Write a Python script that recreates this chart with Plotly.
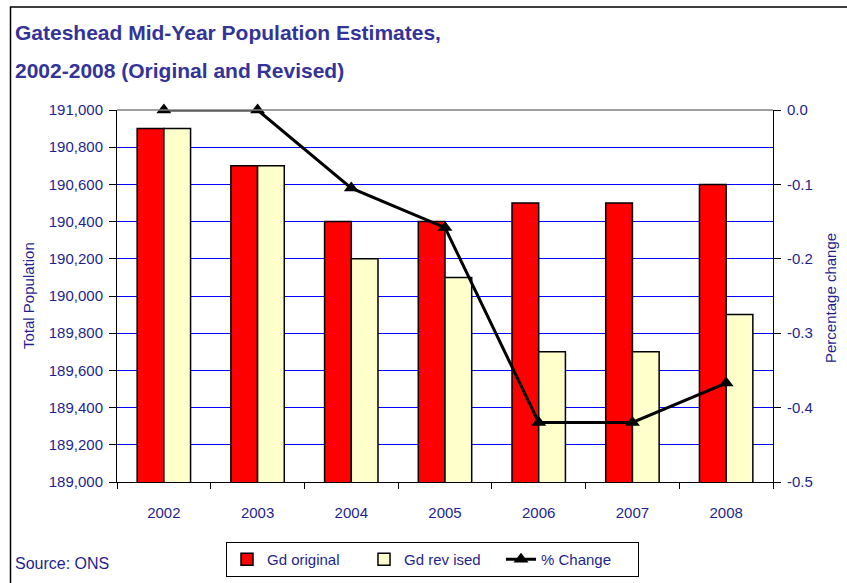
import plotly.graph_objects as go

years = ["2002", "2003", "2004", "2005", "2006", "2007", "2008"]
gd_original = [190900, 190700, 190400, 190400, 190500, 190500, 190600]
gd_revised = [190900, 190700, 190200, 190100, 189700, 189700, 189900]
pct_change = [0.0, 0.0, -0.105, -0.158, -0.42, -0.42, -0.367]

left_ticks = list(range(189000, 191001, 200))
right_ticks = [0.0, -0.1, -0.2, -0.3, -0.4, -0.5]

W, H = 847, 583
L, R, T, B = 117, 74, 110, 101
pw, ph = W - L - R, H - T - B

navy = "#1F1F8F"
font_family = "Liberation Sans, Arial, sans-serif"


def px_x(x):
    return (x - L) / pw


def px_y(y):
    return (H - B - y) / ph


fig = go.Figure()
fig.add_trace(go.Bar(
    x=years, y=gd_original, name="Gd original",
    marker=dict(color="#FF0000", line=dict(color="black", width=1.5)),
))
fig.add_trace(go.Bar(
    x=years, y=gd_revised, name="Gd rev ised",
    marker=dict(color="#FFFFCC", line=dict(color="black", width=1.5)),
))
fig.add_trace(go.Scatter(
    x=years, y=pct_change, name="% Change", yaxis="y2", mode="lines+markers",
    line=dict(color="black", width=3),
    marker=dict(symbol="triangle-up", size=13, color="black"),
    cliponaxis=False,
))

fig.update_layout(
    width=W, height=H,
    margin=dict(l=L, r=R, t=T, b=B, autoexpand=False),
    paper_bgcolor="white", plot_bgcolor="white",
    font=dict(family=font_family, size=15, color=navy),
    barmode="group", bargap=0.43, bargroupgap=0,
    showlegend=True,
    legend=dict(
        orientation="h",
        xref="container", yref="container",
        x=226 / W, y=1 - 542 / H,
        xanchor="left", yanchor="top",
        bordercolor="black", borderwidth=1,
        font=dict(size=15, color=navy, family=font_family),
        itemwidth=30, entrywidth=92, tracegroupgap=0,
    ),
    xaxis=dict(
        type="category", automargin=False,
        showline=True, linecolor="black", linewidth=1,
        ticks="outside", ticklen=6, tickcolor="black", tickson="boundaries",
        showgrid=False,
        ticklabelstandoff=17,
        tickfont=dict(size=15, color=navy),
    ),
    yaxis=dict(
        range=[189000, 191000], automargin=False,
        tickvals=left_ticks,
        ticktext=[f"{v:,}" for v in left_ticks],
        showline=True, linecolor="black", linewidth=1,
        ticks="outside", ticklen=7, tickcolor="black",
        showgrid=True, gridcolor="#0000FF", gridwidth=1,
        zeroline=False,
        ticklabelstandoff=3,
        tickfont=dict(size=15, color=navy),
    ),
    yaxis2=dict(
        range=[-0.5, 0.0], overlaying="y", side="right", automargin=False,
        tickvals=right_ticks,
        ticktext=[f"{v:.1f}" for v in right_ticks],
        showline=True, linecolor="black", linewidth=1,
        ticks="outside", ticklen=7, tickcolor="black",
        showgrid=False, zeroline=False,
        ticklabelstandoff=3,
        tickfont=dict(size=15, color=navy),
    ),
    annotations=[
        dict(text="<b>Gateshead Mid-Year Population Estimates,</b>",
             xref="paper", yref="paper", x=px_x(13), y=px_y(33),
             xanchor="left", yanchor="middle", showarrow=False,
             font=dict(size=21, color="#333399", family=font_family)),
        dict(text="<b>2002-2008 (Original and Revised)</b>",
             xref="paper", yref="paper", x=px_x(13), y=px_y(70),
             xanchor="left", yanchor="middle", showarrow=False,
             font=dict(size=21, color="#333399", family=font_family)),
        dict(text="Total Population", textangle=-90,
             xref="paper", yref="paper", x=px_x(28), y=px_y(296),
             xanchor="center", yanchor="middle", showarrow=False,
             font=dict(size=15, color=navy, family=font_family)),
        dict(text="Percentage change", textangle=-90,
             xref="paper", yref="paper", x=px_x(830), y=px_y(298),
             xanchor="center", yanchor="middle", showarrow=False,
             font=dict(size=15, color=navy, family=font_family)),
        dict(text="Source: ONS", xref="paper", yref="paper",
             x=px_x(13), y=px_y(563),
             xanchor="left", yanchor="middle", showarrow=False,
             font=dict(size=16, color=navy, family=font_family)),
    ],
    shapes=[
        dict(type="line", xref="paper", yref="paper", x0=0, x1=1, y0=1, y1=1,
             line=dict(color="#808080", width=1.5)),
        dict(type="rect", xref="paper", yref="paper",
             x0=px_x(10.5), x1=px_x(W + 5),
             y0=px_y(H + 5), y1=px_y(7),
             line=dict(color="black", width=1.5), layer="below"),
    ],
)

fig.write_html(
    "out.html",
    config={"displayModeBar": False},
    post_script="document.body.style.margin='0';document.body.style.overflow='hidden';",
)
